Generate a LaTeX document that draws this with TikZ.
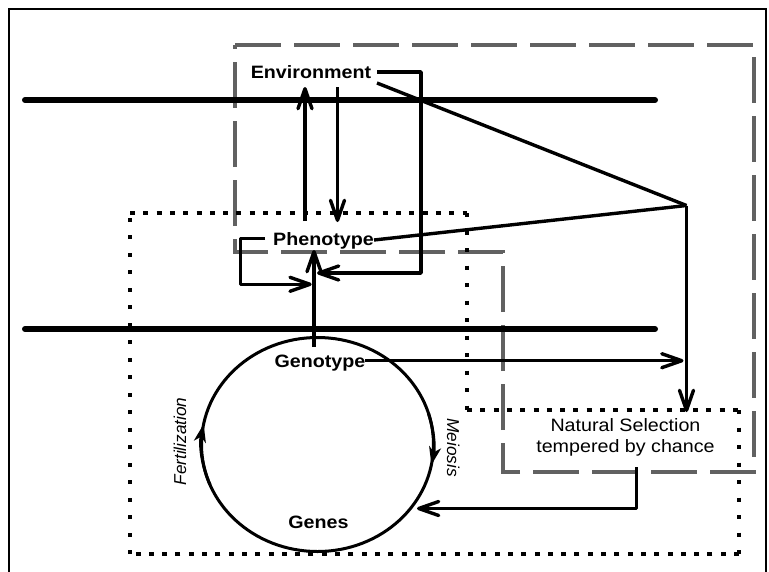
\documentclass[tikz,border=0pt]{standalone}
\usepackage{fontspec}
\usetikzlibrary{arrows.meta,calc,shapes.geometric}
\newfontfamily\labfont{Liberation Sans}[FakeStretch=1.1]
\newfontfamily\sidefont{Liberation Sans}
\tikzset{
  x=1pt, y=1pt,
  frame/.style={line width=1.3pt},
  region/.style={draw=black!62, line width=3.1pt, dash pattern=on 46pt off 13pt},
  dotsh/.style={line width=3.2pt, dash pattern=on 5pt off 8.3pt},
  dotsv/.style={line width=3.2pt, dash pattern=on 4pt off 13.5pt},
  axis/.style={line width=6pt, line cap=round},
  plain/.style={line width=3.4pt, line join=round},
  link/.style={plain, -{Straight Barb[length=20pt,width=14pt,round]}},
  cyc/.style={line width=3pt, -{Stealth[length=18pt,width=12pt,inset=5pt]}},
  lbl/.style={font=\labfont\bfseries\fontsize{17.9}{21}\selectfont, inner sep=0pt, anchor=base},
  side/.style={font=\sidefont\itshape\fontsize{17.2}{20}\selectfont, inner sep=0pt, anchor=base},
}
\begin{document}
\begin{tikzpicture}
\useasboundingbox (0,0) rectangle (769,-571);
\draw[frame] (9,-9) rectangle (766,-585);

% environment region (gray dashed) and organism region (dotted)
\draw[region] (235,-45) -- (754,-45) -- (754,-472) -- (503,-472) -- (503,-252) -- (235,-252) -- cycle;
\draw[dotsh] (130,-213) -- (467,-213);
\draw[dotsv] (467,-213) -- (467,-410);
\draw[dotsh] (467,-410) -- (739,-410);
\draw[dotsv] (739,-410) -- (739,-554);
\draw[dotsh] (739,-554) -- (130,-554);
\draw[dotsv] (130,-554) -- (130,-213);

% level separators
\draw[axis] (25,-100) -- (655,-100);
\draw[axis] (25,-329) -- (655,-329);

% labels
\node[lbl] (env) at (311,-78) {Environment};
\node[lbl] (phen) at (323.5,-245) {Phenotype};
\node[lbl] (geno) at (320,-367) {Genotype};
\node[lbl] (genes) at (318.5,-528) {Genes};
\node[side, rotate=90] (fert) at (186,-441.5) {Fertilization};
\node[side, rotate=-90] (meio) at (447,-447.5) {Meiosis};
\node[font=\labfont\fontsize{17.9}{21}\selectfont, align=center, inner sep=0pt, anchor=north]
  (ns) at (625.5,-418.8) {Natural Selection\\tempered by chance};

% life cycle
\node[draw, ellipse, line width=3pt, minimum width=232pt, minimum height=214pt, inner sep=0pt]
  (cycle) at (317.5,-444.5) {};
\draw[cyc] ($(cycle.center)+(202:116 and 107)$) arc[start angle=202, end angle=169, x radius=116, y radius=107];
\draw[cyc] ($(cycle.center)+(17:116 and 107)$) arc[start angle=17, end angle=-11, x radius=116, y radius=107];

\coordinate (apex) at (686.5,-205.5);

% interactions
\draw[link] ($(phen.base)+(-18.5,24)$) -- ($(env.base)+(-6,-9)$);
\draw[link] ($(env.base)+(26.5,-9)$) -- ($(phen.base)+(14,23)$);
\draw[link] ($(env.base)+(66,6)$) -- ++(44,0) |- ($(phen.base)+(-6.5,-28)$);
\draw[link] ($(phen.base)+(-58.5,6.7)$) -- ++(-24.5,0) |- ($(phen.base)+(-11.8,-39.3)$);
\draw[link] ($(geno.base)+(-6,20)$) -- ($(phen.base)+(-9.5,-5)$);

% selection
\draw[plain] ($(env.base)+(66,-5)$) -- (apex);
\draw[plain] ($(phen.base)+(50.5,5)$) -- (apex);
\draw[link] (apex) -- ($(ns.north)+(61,6.8)$);
\coordinate (gout) at ($(geno.base)+(45,6.3)$);
\draw[link, shorten >=3pt] (gout) -- (gout -| apex);
\draw[link] ($(ns.south)+(11.2,-10.5)$) |- ($(cycle.center)+(99.5,-64)$);
\end{tikzpicture}
\end{document}
